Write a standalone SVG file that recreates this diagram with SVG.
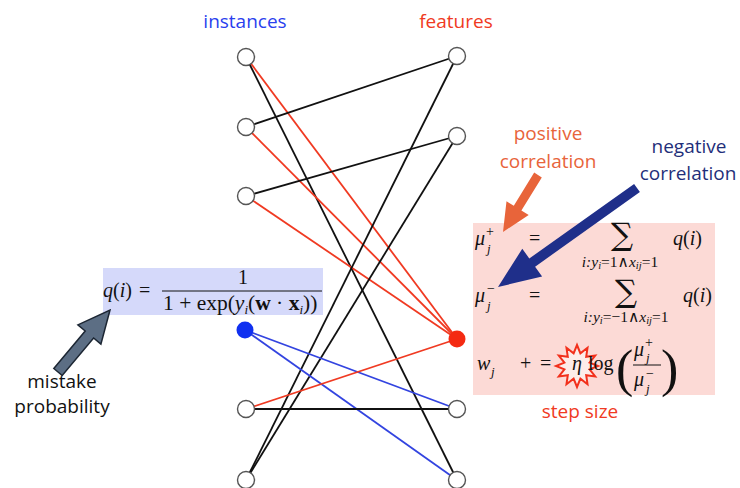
<svg xmlns="http://www.w3.org/2000/svg" width="740" height="488" viewBox="0 0 740 488">
<style>
.lbl{font-family:"Open Sans","Liberation Sans",sans-serif;font-size:19px;text-anchor:middle}
.m{font-family:"Liberation Serif","DejaVu Serif",serif;font-size:20px;fill:#111}
.it{font-style:italic}
.sub{font-size:13px;font-style:italic}
.sup{font-size:14px}
.par{font-size:52px}
.sm{font-family:"Liberation Serif","DejaVu Serif",serif;font-size:15.5px;font-style:italic;fill:#111;text-anchor:middle}
.ss{font-size:10.5px}
.ro{font-style:normal}
.big{font-family:"DejaVu Serif","Liberation Serif",serif;font-size:31px;fill:#111;text-anchor:middle}
.e{stroke-width:1.8;fill:none}
.k{stroke:#111}
.r{stroke:#f03a22}
.b{stroke:#3344e0}
.node{fill:#fff;stroke:#555;stroke-width:1.4}
</style>
<rect width="740" height="488" fill="#fff"/>
<!-- boxes -->
<rect x="103" y="268" width="220" height="47" fill="#d5d9fa"/>
<rect x="473" y="223" width="242" height="172" fill="#fcdad6"/>
<!-- connectors -->
<g id="connectors">
<line class="e r" x1="246" y1="57" x2="457" y2="339"/>
<line class="e k" x1="246" y1="57" x2="457" y2="480"/>
<line class="e k" x1="246" y1="127" x2="457" y2="56"/>
<line class="e r" x1="246" y1="127" x2="457" y2="339"/>
<line class="e k" x1="246" y1="196" x2="457" y2="136"/>
<line class="e r" x1="246" y1="196" x2="457" y2="339"/>
<line class="e k" x1="457" y1="56" x2="246" y2="480"/>
<line class="e k" x1="457" y1="136" x2="246" y2="480"/>
<line class="e b" x1="245" y1="330" x2="457" y2="409"/>
<line class="e b" x1="245" y1="330" x2="457" y2="480"/>
<line class="e r" x1="246" y1="409" x2="457" y2="339"/>
<line class="e k" x1="246" y1="409" x2="457" y2="409"/>
</g>
<!-- nodes -->
<g id="inst1"><circle class="node" cx="246" cy="57" r="8.5"/></g>
<g id="inst2"><circle class="node" cx="246" cy="127" r="8.5"/></g>
<g id="inst3"><circle class="node" cx="246" cy="196" r="8.5"/></g>
<g id="inst4"><circle cx="245" cy="330" r="8.5" fill="#1030f0"/></g>
<g id="inst5"><circle class="node" cx="246" cy="409" r="8.5"/></g>
<g id="inst6"><circle class="node" cx="246" cy="480" r="8.5"/></g>
<g id="feat1"><circle class="node" cx="457" cy="56" r="8.5"/></g>
<g id="feat2"><circle class="node" cx="457" cy="136" r="8.5"/></g>
<g id="feat3"><circle cx="457" cy="339" r="8.5" fill="#f42a12"/></g>
<g id="feat4"><circle class="node" cx="457" cy="409" r="8.5"/></g>
<g id="feat5"><circle class="node" cx="457" cy="480" r="8.5"/></g>
<!-- headers -->
<text class="lbl" x="245" y="28" fill="#2a40ee">instances</text>
<text class="lbl" x="456" y="28" fill="#f03a22">features</text>
<!-- left formula -->
<g id="qformula">
<text class="m" x="103" y="297"><tspan class="it">q</tspan>(<tspan class="it">i</tspan>)</text>
<text class="m" x="139" y="297">=</text>
<text class="m" x="243" y="284" text-anchor="middle">1</text>
<line x1="162" y1="291" x2="322" y2="291" stroke="#111" stroke-width="1"/>
<text class="m" x="163" y="310" style="font-size:21.5px">1 + exp(<tspan class="it">y</tspan><tspan class="sub" dy="4">i</tspan><tspan dy="-4">(</tspan><tspan font-weight="bold">w</tspan> · <tspan font-weight="bold">x</tspan><tspan class="sub" dy="4">i</tspan><tspan dy="-4">))</tspan></text>
</g>
<!-- right formulas -->
<g id="muformula">
<text class="m it" x="475" y="245">μ</text>
<text class="m sub" x="487" y="253">j</text>
<text class="m sup" x="486" y="236">+</text>
<text class="m" x="529" y="245">=</text>
<text class="big" x="622" y="245">∑</text>
<text class="sm" x="620" y="267">i:y<tspan class="ss" dy="2">i</tspan><tspan class="ro" dy="-2">=1∧</tspan>x<tspan class="ss" dy="2">ij</tspan><tspan class="ro" dy="-2">=1</tspan></text>
<text class="m" x="673" y="245"><tspan class="it">q</tspan>(<tspan class="it">i</tspan>)</text>

<text class="m it" x="475" y="302">μ</text>
<text class="m sub" x="487" y="310">j</text>
<text class="m sup" x="487" y="293">−</text>
<text class="m" x="529" y="302">=</text>
<text class="big" x="626" y="302">∑</text>
<text class="sm" x="626" y="322">i:y<tspan class="ss" dy="2">i</tspan><tspan class="ro" dy="-2">=−1∧</tspan>x<tspan class="ss" dy="2">ij</tspan><tspan class="ro" dy="-2">=1</tspan></text>
<text class="m" x="683" y="302"><tspan class="it">q</tspan>(<tspan class="it">i</tspan>)</text>

<text class="m it" x="477" y="370">w</text>
<text class="m sub" x="491" y="376">j</text>
<text class="m" x="520" y="370">+</text>
<text class="m" x="540" y="370">=</text>
<polygon points="577,345 580.4,353.4 587.5,347.8 586.2,356.8 595.2,355.5 589.6,362.6 598,366 589.6,369.4 595.2,376.5 586.2,375.2 587.5,384.2 580.4,378.6 577,387 573.6,378.6 566.5,384.2 567.8,375.2 558.8,376.5 564.4,369.4 556,366 564.4,362.6 558.8,355.5 567.8,356.8 566.5,347.8 573.6,353.4" fill="#fdeeec" fill-opacity="0.85" stroke="#f2301c" stroke-width="2" stroke-linejoin="miter"/>
<text class="m it" x="572" y="370">η</text>
<text class="m" x="588" y="370">log</text>
<text class="m par" x="616" y="386">(</text>
<text class="m it" x="634" y="356">μ</text>
<text class="m sub" x="646" y="362">j</text>
<text class="m sup" x="645" y="347">+</text>
<line x1="633" y1="365" x2="661" y2="365" stroke="#111" stroke-width="1"/>
<text class="m it" x="634" y="386">μ</text>
<text class="m sub" x="646" y="393">j</text>
<text class="m sup" x="646" y="378">−</text>
<text class="m par" x="661" y="386">)</text>
</g>
<!-- annotations -->
<text class="lbl" x="548" y="140" fill="#e8643a">positive</text>
<text class="lbl" x="548" y="168" fill="#e8643a">correlation</text>
<polygon points="534.2,172.6 513.8,205.7 506.5,201.3 503,232 528.7,214.9 521.4,210.5 541.8,177.4" fill="#e8643a"/>
<text class="lbl" x="689" y="153" fill="#1f2f7a">negative</text>
<text class="lbl" x="688" y="180" fill="#1f2f7a">correlation</text>
<polygon points="634.1,183.9 529.3,258.5 522.3,248.7 498,287 542.1,276.5 535.1,266.7 639.9,192.1" fill="#1f2f8a"/>
<polygon points="53.8,368.5 85.2,331.0 77.9,324.9 110,310 100.9,344.1 93.6,338.0 62.2,375.5" fill="#5c6e84" stroke="#1c2633" stroke-width="1.5" stroke-linejoin="miter"/>
<text class="lbl" x="62" y="388" fill="#111">mistake</text>
<text class="lbl" x="62" y="413" fill="#111">probability</text>
<text class="lbl" x="580" y="418" fill="#f03a22">step size</text>
</svg>
